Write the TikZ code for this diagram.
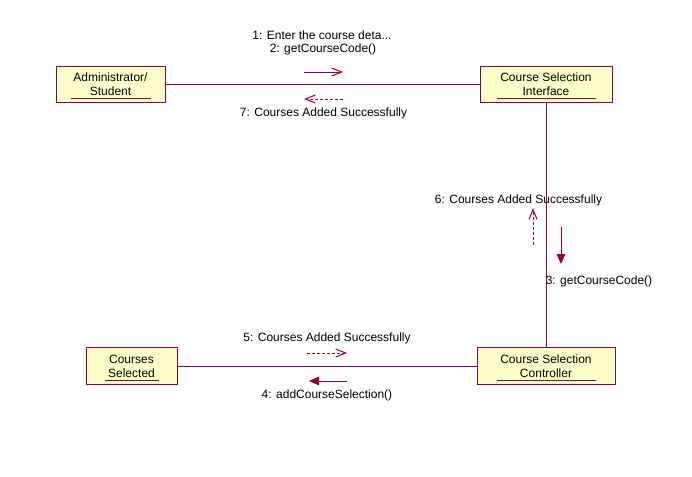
\documentclass[tikz,border=0pt]{standalone}
\usepackage{fontspec}
\setmainfont{Liberation Sans}
\usetikzlibrary{arrows.meta}
\definecolor{linkred}{RGB}{153,0,51}
\definecolor{objfill}{RGB}{255,255,204}
\tikzstyle{object} = [rectangle, minimum height=27.5pt, align=center, draw=linkred, fill=objfill, line width=0.75pt, inner sep=0pt, font=\fontsize{9}{10.5}\selectfont]
\tikzstyle{link} = [draw=linkred, line width=0.75pt]
\tikzstyle{uline} = [draw=linkred, line width=0.75pt]
\tikzstyle{msg} = [font=\fontsize{9}{10.5}\selectfont, inner sep=0pt]
\tikzstyle{sync} = [draw=linkred, line width=0.75pt, -{Straight Barb[length=7.5pt,width=6pt]}]
\tikzstyle{call} = [draw=linkred, fill=linkred, line width=0.75pt, -{Triangle[length=7.5pt,width=6.5pt]}]
\tikzstyle{reply} = [sync, dash pattern=on 2.25pt off 1.5pt]

\begin{document}
\begin{tikzpicture}[x=0.75pt, y=-0.75pt]
	\useasboundingbox (0,0) rectangle (692,476);
	% objects
	\node (admin) [object, minimum width=81.75pt] at (110.5,84.5) {Administrator/\\Student};
	\node (iface) [object, minimum width=99pt] at (546,84.5) {Course Selection\\Interface};
	\node (ctrl) [object, minimum width=103.5pt] at (546,366) {Course Selection\\Controller};
	\node (sel) [object, minimum width=68.25pt] at (131.5,366) {Courses\\Selected};
	\draw [uline] ([shift={(15,-5)}]admin.south west) -- ([shift={(-15,-5)}]admin.south east);
	\draw [uline] ([shift={(17,-5)}]iface.south west) -- ([shift={(-17,-5)}]iface.south east);
	\draw [uline] ([shift={(20,-4)}]ctrl.south west) -- ([shift={(-20,-4)}]ctrl.south east);
	\draw [uline] ([shift={(19,-4)}]sel.south west) -- ([shift={(-19,-4)}]sel.south east);
	% links
	\draw [link] (admin) -- (iface);
	\draw [link] (iface) -- (ctrl);
	\draw [link] (sel) -- (ctrl);
	% messages
	\node (msg1) [msg] at (322,35) {1: Enter the course deta...};
	\node (msg2) [msg] at (323,49) {2: getCourseCode()};
	\node (msg7) [msg] at (323.5,113) {7: Courses Added Successfully};
	\node (msg6) [msg] at (518.5,200) {6: Courses Added Successfully};
	\node (msg3) [msg] at (599,281) {3: getCourseCode()};
	\node (msg5) [msg] at (327,338) {5: Courses Added Successfully};
	\node (msg4) [msg] at (327,395) {4: addCourseSelection()};
	\coordinate (a1) at (304,72);
	\coordinate (b1) at (343,72);
	\coordinate (a7) at (343,99);
	\coordinate (b7) at (304,99);
	\coordinate (a6) at (533,245);
	\coordinate (b6) at (533,208);
	\coordinate (a3) at (561,227);
	\coordinate (b3) at (561,264);
	\coordinate (a5) at (307,353);
	\coordinate (b5) at (347,353);
	\coordinate (a4) at (347,381);
	\coordinate (b4) at (309,381);
	\draw [sync] (a1) -- (b1);
	\draw [reply] (a7) -- (b7);
	\draw [reply] (a6) -- (b6);
	\draw [call] (a3) -- (b3);
	\draw [reply] (a5) -- (b5);
	\draw [call] (a4) -- (b4);
\end{tikzpicture}
\end{document}
